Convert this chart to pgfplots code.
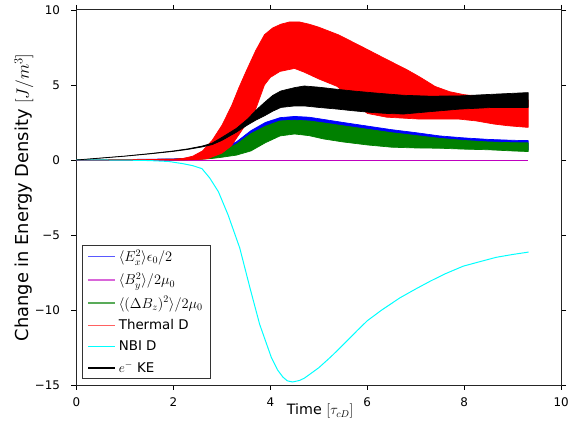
\RequirePackage{fix-cm}
\documentclass[border=0pt]{standalone}
\usepackage[no-math]{fontspec}
\setmainfont{DejaVu Sans}
\usepackage{pgfplots}
\pgfplotsset{compat=1.18}
\usetikzlibrary{calc}
\definecolor{mplblue}{rgb}{0,0,1}
\definecolor{mplred}{rgb}{1,0,0}
\definecolor{mplcyan}{rgb}{0,1,1}
\definecolor{mplblack}{rgb}{0,0,0}
\definecolor{mplmag}{rgb}{0.75,0,0.75}
\definecolor{mplgreen}{rgb}{0,0.5,0}
\definecolor{legblue}{rgb}{0.35,0.35,1}
\definecolor{legmag}{rgb}{0.85,0.4,0.85}
\definecolor{leggreen}{rgb}{0.35,0.67,0.35}
\definecolor{legred}{rgb}{1,0.38,0.38}
\newcommand{\lm}{\fontsize{14.5}{16}\selectfont}
\begin{document}
\begin{tikzpicture}
\begin{axis}[
  scale only axis, width=488.5pt, height=378pt,
  xmin=0, xmax=10, ymin=-15, ymax=10,
  xtick={0,2,4,6,8,10}, ytick={-15,-10,-5,0,5,10},
  xticklabels={0,2,4,6,8,10}, yticklabels={−15,−10,−5,0,5,10},
  tick align=outside, major tick length=5pt,
  tick style={black, line width=0.6pt},
  axis line style={line width=1pt, black!85},
  ticklabel style={font=\fontsize{12}{14}\selectfont},
  xticklabel style={yshift=-4pt},
  yticklabel style={xshift=-8pt},
  every axis x label/.style={at={(axis description cs:0.503,-0.07)}, anchor=center, font=\fontsize{14.4}{17}\selectfont},
  every axis y label/.style={at={(axis description cs:-0.1085,0.5)}, anchor=center, rotate=90, font=\fontsize{18}{21}\selectfont},
  xlabel={Time $[\tau_{cD}]$},
  ylabel={Change in Energy Density $[J/m^3]$},
  legend style={draw=black!80, line width=0.8pt, fill=white,
    font=\fontsize{13.5}{16}\selectfont,
    inner xsep=5pt, inner ysep=3pt, row sep=7pt,
    nodes={inner xsep=3pt, inner ysep=1.5pt},
    at={(0.012,0.016)}, anchor=south west},
  legend cell align=left,
  legend image code/.code={\draw[#1] (0pt,0pt) -- (19pt,0pt); \path (0pt,0pt) -- (27pt,0pt);},
]
\addlegendimage{draw=legblue, line width=1.5pt}
\addlegendentry{\lm$\langle E_x^2\rangle\epsilon_0/2$}
\addlegendimage{draw=legmag, line width=1.5pt}
\addlegendentry{\lm$\langle B_y^2\rangle/2\mu_0$}
\addlegendimage{draw=leggreen, line width=1.5pt}
\addlegendentry{\lm$\langle(\Delta B_z)^2\rangle/2\mu_0$}
\addlegendimage{draw=legred, line width=1.5pt}
\addlegendentry{Thermal D}
\addlegendimage{draw=mplcyan, line width=1.5pt}
\addlegendentry{NBI D}
\addlegendimage{draw=mplblack, line width=1.5pt}
\addlegendentry{$e^-$ KE}

% E_x band
\addplot[forget plot, fill=mplblue, draw=mplblue, line width=0.7pt, line join=round] coordinates {
(0,0) (0.5,0.01) (1,0.03) (1.5,0.05) (2,0.07) (2.3,0.12) (2.6,0.3) (2.8,0.48) (3.0,0.72) (3.3,1.2) (3.6,1.95) (3.9,2.5) (4.2,2.82) (4.5,2.9) (4.8,2.85) (5.1,2.7) (5.5,2.5) (6.0,2.26) (6.5,2.02) (7.0,1.82) (7.5,1.6) (8.0,1.47) (8.5,1.37) (9.0,1.31) (9.32,1.29)
(9.32,0.66) (9.0,0.7) (8.5,0.78) (8.0,0.82) (7.5,0.88) (7.0,0.9) (6.5,0.95) (6.0,1.1) (5.5,1.3) (5.1,1.5) (4.8,1.72) (4.5,1.83) (4.2,1.7) (3.9,1.25) (3.6,0.7) (3.3,0.4) (3.0,0.25) (2.8,0.15) (2.6,0.08) (2.3,0.04) (2,0.03) (1.5,0.02) (1,0.01) (0.5,0) (0,0)
};
% B_y line
\addplot[forget plot, mplmag, line width=0.9pt] coordinates {(0,0) (9.32,0)};
% Delta B_z band
\addplot[forget plot, fill=mplgreen, draw=mplgreen, line width=0.7pt, line join=round] coordinates {
(0,0) (0.5,0.005) (1,0.02) (1.5,0.03) (2,0.05) (2.3,0.08) (2.6,0.22) (2.8,0.38) (3.0,0.6) (3.3,1.05) (3.6,1.75) (3.9,2.25) (4.2,2.6) (4.5,2.65) (4.8,2.6) (5.1,2.47) (5.5,2.28) (6.0,2.05) (6.5,1.82) (7.0,1.63) (7.5,1.44) (8.0,1.3) (8.5,1.2) (9.0,1.15) (9.32,1.14)
(9.32,0.56) (9.0,0.6) (8.5,0.68) (8.0,0.72) (7.5,0.78) (7.0,0.8) (6.5,0.85) (6.0,1.0) (5.5,1.2) (5.1,1.4) (4.8,1.62) (4.5,1.73) (4.2,1.6) (3.9,1.15) (3.6,0.6) (3.3,0.32) (3.0,0.18) (2.8,0.1) (2.6,0.05) (2.3,0.02) (2,0.01) (1.5,0.01) (1,0) (0.5,0) (0,0)
};
% Thermal D band
\addplot[forget plot, fill=mplred, draw=mplred, line width=0.7pt, line join=round] coordinates {
(0,0) (1,0.02) (2,0.05) (2.2,0.1) (2.4,0.25) (2.6,0.6) (2.8,1.3) (3.0,2.3) (3.2,3.6) (3.35,4.8) (3.5,5.9) (3.7,7.3) (3.88,8.35) (4.05,8.8) (4.22,9.05) (4.4,9.2) (4.6,9.2) (4.8,9.05) (5.0,8.85) (5.2,8.6) (5.4,8.35) (5.8,7.7) (6.1,7.2) (6.4,6.7) (6.8,6.05) (7.1,5.5) (7.4,4.9) (7.7,4.55) (8.0,4.35) (8.3,4.25) (8.6,4.2) (9.0,4.1) (9.32,4.0)
(9.32,2.17) (8.9,2.28) (8.6,2.4) (8.25,2.6) (7.9,2.72) (7.1,2.72) (6.4,2.85) (6.0,3.1) (5.7,4.0) (5.38,4.9) (5.0,5.4) (4.7,5.85) (4.5,6.1) (4.2,5.9) (4.0,5.5) (3.88,5.0) (3.7,3.4) (3.5,2.4) (3.2,0.95) (3.0,0.45) (2.7,0.08) (2.5,0.03) (2.2,0) (1,0) (0,0)
};
% NBI D
\addplot[forget plot, mplcyan, line width=1pt] coordinates {
(0,0) (0.5,0) (1,-0.01) (1.5,-0.04) (1.9,-0.1) (2.2,-0.25) (2.4,-0.38) (2.59,-0.58) (2.75,-1.2) (2.93,-2.12) (3.13,-3.67) (3.37,-5.87) (3.58,-8.52) (3.78,-10.95) (4.02,-13.15) (4.15,-14.0) (4.26,-14.47) (4.35,-14.72) (4.46,-14.8) (4.6,-14.7) (4.7,-14.55) (4.83,-14.25) (5.0,-13.85) (5.24,-13.15) (5.4,-12.65) (5.59,-12.04) (5.8,-11.35) (6.0,-10.72) (6.3,-10.0) (6.68,-9.18) (7.0,-8.6) (7.3,-8.08) (7.6,-7.6) (7.98,-7.08) (8.3,-6.8) (8.66,-6.49) (9.0,-6.3) (9.33,-6.14)
};
% e- KE band
\addplot[forget plot, fill=mplblack, draw=mplblack, line width=0.7pt, line join=round] coordinates {
(0,0) (0.5,0.13) (1,0.26) (1.5,0.42) (2,0.6) (2.3,0.74) (2.6,0.93) (2.8,1.12) (3.0,1.5) (3.3,2.1) (3.54,2.75) (3.7,3.3) (3.88,3.83) (4.05,4.3) (4.22,4.6) (4.5,4.82) (4.7,4.93) (5.0,4.85) (5.38,4.71) (5.7,4.6) (6.07,4.49) (6.4,4.4) (6.75,4.31) (7.3,4.25) (7.91,4.27) (8.6,4.38) (9.32,4.49)
(9.32,3.5) (8.6,3.5) (7.91,3.39) (7.3,3.22) (6.75,3.06) (6.4,3.1) (6.07,3.17) (5.7,3.28) (5.38,3.39) (5.0,3.5) (4.7,3.6) (4.5,3.6) (4.22,3.5) (4.05,3.25) (3.88,2.94) (3.7,2.65) (3.54,2.35) (3.3,1.85) (3.0,1.3) (2.8,1.02) (2.6,0.87) (2.3,0.7) (2,0.57) (1.5,0.4) (1,0.25) (0.5,0.12) (0,0)
};
\end{axis}
\path[use as bounding box] ($(current axis.south west)+(-77pt,-43pt)$) rectangle ($(current axis.north east)+(6pt,10pt)$);
\end{tikzpicture}
\end{document}
